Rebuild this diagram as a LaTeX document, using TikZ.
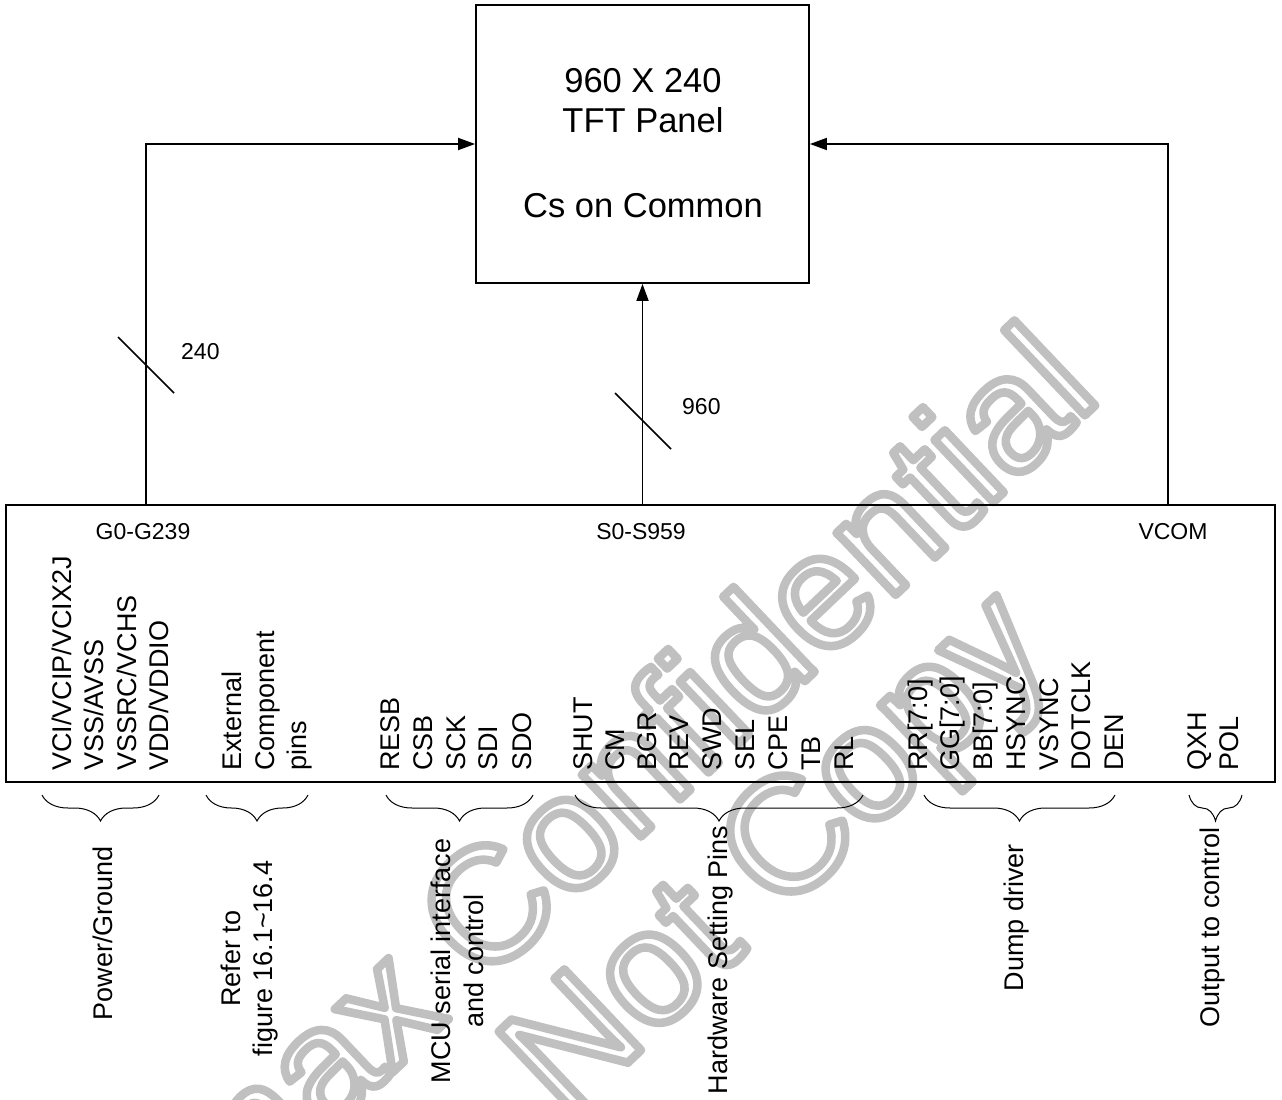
\documentclass[tikz,border=0pt]{standalone}
\usepackage{fontspec}
\setmainfont{Liberation Sans}
\usetikzlibrary{arrows.meta,decorations.pathreplacing,calc}
\definecolor{wmgray}{RGB}{192,192,192}
\newcommand{\wmoutline}[1]{\special{pdf:literal direct 1 Tr 8.5 w 1 j}#1\special{pdf:literal direct 0 Tr}}
\begin{document}
\begin{tikzpicture}[x=1pt,y=-1pt,
  line/.style={line width=1.8pt},
  conn/.style={line width=1.8pt,-{Triangle[length=17pt,width=12pt]}},
  tick/.style={line width=1.6pt},
  ptxt/.style={font=\fontsize{34.5}{40}\selectfont, anchor=base, inner sep=0pt},
  pin/.style={font=\fontsize{27}{32}\selectfont, rotate=90, anchor=base west, inner sep=0pt},
  grp/.style={font=\fontsize{27}{32}\selectfont, rotate=90, anchor=base, inner sep=0pt},
  sig/.style={font=\fontsize{23}{27}\selectfont, inner sep=0pt},
  brc/.style={decorate, decoration={brace, amplitude=26pt, mirror}, line width=1pt},
  wm/.style={font=\fontsize{162}{162}\selectfont, rotate=43.5, anchor=base, inner sep=0pt, text=wmgray},
]
\useasboundingbox (0,0) rectangle (1282,1100);
\fill[white] (0,0) rectangle (1282,1100);

% watermark (outlined text)
\begin{scope}
\clip (0,0) rectangle (1282,1100);
\node[wm] (wa) at (610.3,865.7) {\wmoutline{Himax Confidential}};
\node[wm] (wb) at (719.4,975.8) {\wmoutline{Do Not Copy}};
\end{scope}

% panel
\node[draw, line, minimum width=333pt, minimum height=278pt, inner sep=0pt] (panel) at (642.5,144) {};
\node[ptxt] (pt1) at (643,92) {960 X 240};
\node[ptxt] (pt2) at (643,132) {TFT Panel};
\node[ptxt] (pt3) at (643,217) {Cs on Common};

% driver
\node[draw, line, minimum width=1269pt, minimum height=277pt, inner sep=0pt] (drv) at (640.5,643.5) {};

\coordinate (gtap) at (146,505);
\coordinate (vtap) at (1168,505);
\draw[conn] (gtap) |- (panel.west);
\draw[conn] (vtap) |- (panel.east);
\draw[conn] (panel.south |- drv.north) -- (panel.south);

\coordinate (gt) at (146,365);
\coordinate (st) at (643,421);
\draw[tick] (gt) +(-28,-28) -- +(28,28);
\draw[tick] (st) +(-28,-28) -- +(28,28);
\node[sig, anchor=base west] (n240) at (181,359) {240};
\node[sig, anchor=base west] (n960) at (682,414) {960};

\node[sig, anchor=base] (gl) at (143,539) {G0-G239};
\node[sig, anchor=base] (sl) at (641,539) {S0-S959};
\node[sig, anchor=base] (vl) at (1173,539) {VCOM};

% pins
\node[pin] (p1) at (71,771) {VCI/VCIP/VCIX2J};
\node[pin] (p2) at (103,771) {VSS/AVSS};
\node[pin] (p3) at (136,771) {VSSRC/VCHS};
\node[pin] (p4) at (168,771) {VDD/VDDIO};
\node[pin] (p5) at (241,771) {External};
\node[pin] (p6) at (274,771) {Component};
\node[pin] (p7) at (306,771) {pins};
\node[pin] (p8) at (399,771) {RESB};
\node[pin] (p9) at (432,771) {CSB};
\node[pin] (p10) at (465,771) {SCK};
\node[pin] (p11) at (497,771) {SDI};
\node[pin] (p12) at (531,771) {SDO};
\node[pin] (p13) at (592,771) {SHUT};
\node[pin] (p14) at (624,771) {CM};
\node[pin] (p15) at (656,771) {BGR};
\node[pin] (p16) at (688,771) {REV};
\node[pin] (p17) at (721,771) {SWD};
\node[pin] (p18) at (754,771) {SEL};
\node[pin] (p19) at (787,771) {CPE};
\node[pin] (p20) at (820,771) {TB};
\node[pin] (p21) at (853,771) {RL};
\node[pin] (p22) at (927,771) {RR[7:0]};
\node[pin] (p23) at (959,771) {GG[7:0]};
\node[pin] (p24) at (992,771) {BB[7:0]};
\node[pin] (p25) at (1025,771) {HSYNC};
\node[pin] (p26) at (1058,771) {VSYNC};
\node[pin] (p27) at (1090,771) {DOTCLK};
\node[pin] (p28) at (1123,771) {DEN};
\node[pin] (p29) at (1206,771) {QXH};
\node[pin] (p30) at (1238,771) {POL};

% braces
\draw[brc] (42,795) -- (159,795);
\draw[brc] (206,795) -- (308,795);
\draw[brc] (386,795) -- (533,795);
\draw[brc] (575,795) -- (863,795);
\draw[brc] (924,795) -- (1115,795);
\draw[brc] (1189,795) -- (1242,795);

% group labels
\node[grp] (g1) at (112,933) {Power/Ground};
\node[grp] (g2a) at (240,958.5) {Refer to};
\node[grp] (g2b) at (272,958.5) {figure 16.1\textasciitilde 16.4};
\node[grp] (g3a) at (450,961) {MCU serial interface};
\node[grp] (g3b) at (483,961) {and control};
\node[grp] (g4) at (727,960) {Hardware Setting Pins};
\node[grp] (g5) at (1023,917.5) {Dump driver};
\node[grp] (g6) at (1219,927.5) {Output to control};
\end{tikzpicture}
\end{document}
